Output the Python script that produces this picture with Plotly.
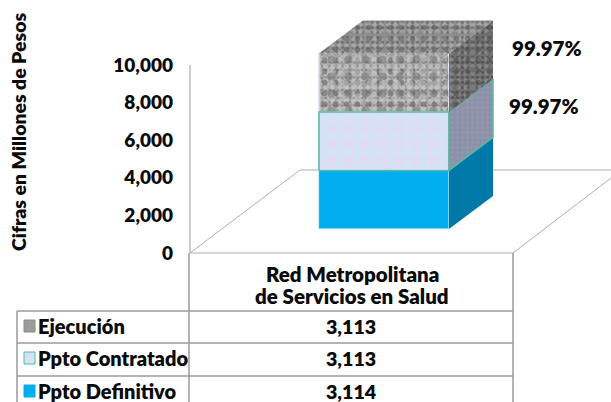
import plotly.graph_objects as go

# ---- data ----
series_names = ["Ppto Definitivo", "Ppto Contratado", "Ejecución"]
series_values = [3114, 3113, 3113]
category_lines = ["Red Metropolitana", "de Servicios en Salud"]
table_labels = ["Ejecución", "Ppto Contratado", "Ppto Definitivo"]
table_values = ["3,113", "3,113", "3,114"]
percent_labels = ["99.97%", "99.97%"]
tick_values = [0, 2000, 4000, 6000, 8000, 10000]
axis_title = "Cifras en Millones de Pesos"

# ---- geometry (canvas pixels) ----
W, H = 611, 402
PX_PER_UNIT = 0.0188
ZERO_Y = 253
FONT = "Lato"
INK = "#0A0A0A"
GRID = "#AEAEAE"
TABLE = "#9A9A9A"


def val(py):
    return (ZERO_Y - py) / PX_PER_UNIT


BAR_L, BAR_R = 319, 449
BAR_BASE = val(229)
DX = 44
DV = 33 / PX_PER_UNIT

# texture layers per series: front, side, top (base colour + overlaid dot patterns)
styles = {
    "Ppto Definitivo": dict(front=["#00AEEF"], side=["#0079A9"]),
    "Ppto Contratado": dict(
        front=["#D6E2F6", ("#E8D6F1", 7, 0.5), ("#C8E8F8", 11, 0.45), ("#E8D6F1", 17, 0.3)],
        side=["#8C91AA", ("#9A9DB2", 5, 0.35)],
        line="#56B9A0",
    ),
    "Ejecución": dict(
        front=["#A4A4A4", ("#6A6A6A", 4, 0.22), ("#DADADA", 7, 0.38), ("#5A5A5A", 11, 0.22),
               ("#C8C8C8", 13, 0.35), ("#707070", 17, 0.18)],
        side=["#6F6F6F", ("#3A3A3A", 5, 0.28), ("#A0A0A0", 7, 0.3), ("#4A4A4A", 11, 0.2)],
        top=["#8E8E8E", ("#4F4F4F", 5, 0.25), ("#C0C0C0", 7, 0.35), ("#5A5A5A", 11, 0.2)],
    ),
}

fig = go.Figure()
x_center = (BAR_L + BAR_R) / 2
bar_w = BAR_R - BAR_L


def add_poly(xs, ys, spec, line=None):
    for i, layer in enumerate(spec):
        if i == 0:
            fig.add_trace(go.Scatter(x=xs, y=ys, mode="lines", fill="toself", fillcolor=layer,
                                     line=dict(width=0), hoverinfo="skip", showlegend=False))
        else:
            c, s, sol = layer
            fig.add_trace(go.Scatter(x=xs, y=ys, mode="lines", fill="toself",
                                     fillcolor="rgba(0,0,0,0)",
                                     fillpattern=dict(shape=".", fgcolor=c, size=s, solidity=sol,
                                                      bgcolor="rgba(0,0,0,0)"),
                                     line=dict(width=0), hoverinfo="skip", showlegend=False))
    if line:
        fig.add_trace(go.Scatter(x=xs, y=ys, mode="lines", line=dict(width=1.5, color=line),
                                 hoverinfo="skip", showlegend=False))


cum = BAR_BASE
for name, v in zip(series_names, series_values):
    st = styles[name]
    for i, layer in enumerate(st["front"]):
        if i == 0:
            m = dict(color=layer)
        else:
            c, s, sol = layer
            m = dict(color="rgba(0,0,0,0)", pattern=dict(shape=".", fgcolor=c, size=s, solidity=sol,
                                                         bgcolor="rgba(0,0,0,0)"))
        fig.add_trace(go.Bar(x=[x_center], y=[v], base=[cum], width=[bar_w], marker=m,
                             name=name, showlegend=False, hoverinfo="name+y"))
    if st.get("line"):
        fig.add_trace(go.Scatter(x=[BAR_L, BAR_R, BAR_R, BAR_L, BAR_L],
                                 y=[cum, cum, cum + v, cum + v, cum], mode="lines",
                                 line=dict(width=1.5, color=st["line"]),
                                 hoverinfo="skip", showlegend=False))
    add_poly([BAR_R, BAR_R + DX, BAR_R + DX, BAR_R, BAR_R],
             [cum, cum + DV, cum + v + DV, cum + v, cum], st["side"], st.get("line"))
    if "top" in st:
        add_poly([BAR_L, BAR_R, BAR_R + DX, BAR_L + DX, BAR_L],
                 [cum + v, cum + v, cum + v + DV, cum + v + DV, cum + v], st["top"])
    cum += v


# ---- floor, wall line, table ----
def seg(x0, y0, x1, y1, color=GRID, width=1):
    return dict(type="line", xref="x", yref="y", x0=x0, y0=val(y0), x1=x1, y1=val(y1),
                line=dict(color=color, width=width), layer="below")


shapes = [
    seg(190, 65, 190, 253, "#BDBDBD", 1.5),
    seg(190, 253, 300, 170),
    seg(300, 170, 611, 170),
    seg(513, 253, 611, 178),
    seg(190, 253, 513, 253),
    seg(189, 253, 189, 311, TABLE, 1.5),
    seg(513, 253, 513, 311, TABLE, 1.5),
]
row_lines = [311, 343, 376]
for y in row_lines:
    shapes.append(seg(17, y, 513, y, TABLE, 1.5))
for x in (17, 189, 513):
    shapes.append(seg(x, 311, x, 402, TABLE, 1.5))

key_styles = [("#9C9C9C", "#8A8A8A"), ("#D6E2F6", "#56B9A0"), ("#00AEEF", "#00AEEF")]
row_centers = [326, 358, 391]
for (fillc, linec), yc in zip(key_styles, row_centers):
    shapes.append(dict(type="rect", xref="x", yref="y", x0=24, x1=35, y0=val(yc - 6), y1=val(yc + 6),
                       fillcolor=fillc, line=dict(color=linec, width=1)))

annotations = []


def text(x, y, s, size=19, anchor="center", angle=0):
    annotations.append(dict(xref="x", yref="y", x=x, y=val(y), text=s, showarrow=False,
                            xanchor=anchor, yanchor="middle", textangle=angle,
                            font=dict(family=FONT, size=size, color=INK, weight=800)))


text(18, 132, axis_title, size=19.4, angle=-90)
text(547, 48, percent_labels[0], size=20.5)
text(544, 106, percent_labels[1], size=20.5)
text(352, 274, category_lines[0], size=20.5)
text(352, 296, category_lines[1], size=20.5)
for label, value, yc in zip(table_labels, table_values, row_centers):
    text(36, yc, label, size=20, anchor="left")
    text(351, yc, value, size=19.6)

fig.update_layout(
    width=W, height=H, margin=dict(l=0, r=0, t=0, b=0, pad=0),
    paper_bgcolor="white", plot_bgcolor="white", barmode="overlay", bargap=0,
    showlegend=False, shapes=shapes, annotations=annotations,
    xaxis=dict(range=[0, W], visible=False, fixedrange=True, domain=[0, 1]),
    yaxis=dict(range=[val(H), val(0)], tickvals=tick_values, tickformat=",d",
               showgrid=False, zeroline=False, showline=False, ticks="", fixedrange=True,
               anchor="free", position=173 / W, side="left",
               tickfont=dict(family=FONT, size=19, color=INK, weight=800)),
)
fig.write_html("out.html", config=dict(displayModeBar=False),
               post_script="document.body.style.margin='0';document.body.style.overflow='hidden';")
